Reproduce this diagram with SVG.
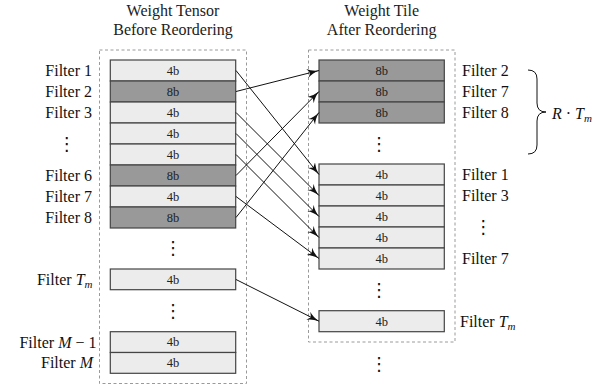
<svg xmlns="http://www.w3.org/2000/svg" width="605" height="388" viewBox="0 0 605 388" font-family="'Liberation Serif', Tinos, 'Noto Serif', 'Nimbus Roman', 'Nimbus Roman No9 L', FreeSerif, Times, 'DejaVu Serif', serif">
  <style>
    .lbl { font-size: 16px; fill: #111; }
    .ttl { font-size: 16px; fill: #222; text-anchor: middle; }
    .end { text-anchor: end; }
    .m { font-style: italic; }
    .cell-txt { font-size: 12.5px; fill: #222; text-anchor: middle; }
    .lt { fill: #ececec; stroke: #444; stroke-width: 1.2; }
    .dk { fill: #999999; stroke: #444; stroke-width: 1.2; }
    .frame { fill: none; stroke: #9a9a9a; stroke-width: 1; stroke-dasharray: 3 2.5; }
    .vd { font-family: 'DejaVu Sans', sans-serif; font-size: 18px; fill: #111; text-anchor: middle; }
    .conn line { stroke: #111; stroke-width: 1; marker-end: url(#head); }
  </style>
  <defs>
    <marker id="head" markerUnits="userSpaceOnUse" markerWidth="14" markerHeight="10" refX="12" refY="4.5" orient="auto">
      <path d="M0,0 Q4.5,3.4 12,4.5 Q4.5,5.6 0,9 L3,4.5 Z" fill="#111"/>
    </marker>
  </defs>

  <!-- column titles -->
  <g id="title-left">
    <text class="ttl" x="173" y="15.5">Weight Tensor</text>
    <text class="ttl" x="173" y="34.5">Before Reordering</text>
  </g>
  <g id="title-right">
    <text class="ttl" x="381.7" y="15.5">Weight Tile</text>
    <text class="ttl" x="381.7" y="34.5">After Reordering</text>
  </g>

  <!-- dashed frames -->
  <rect class="frame" x="99.5" y="50" width="147" height="333.5"/>
  <rect class="frame" x="308.5" y="50" width="146.5" height="292"/>

  <!-- weight tensor (before) -->
  <g id="L1"><rect class="lt" x="110.3" y="60" width="125.4" height="21"/><text class="cell-txt" x="173" y="74.8">4b</text><text class="lbl end" x="92" y="76">Filter 1</text></g>
  <g id="L2"><rect class="dk" x="110.3" y="81" width="125.4" height="21"/><text class="cell-txt" x="173" y="95.8">8b</text><text class="lbl end" x="92" y="97">Filter 2</text></g>
  <g id="L3"><rect class="lt" x="110.3" y="102" width="125.4" height="21"/><text class="cell-txt" x="173" y="116.8">4b</text><text class="lbl end" x="92" y="118">Filter 3</text></g>
  <g id="L4"><rect class="lt" x="110.3" y="123" width="125.4" height="21"/><text class="cell-txt" x="173" y="137.8">4b</text></g>
  <g id="L5"><rect class="lt" x="110.3" y="144" width="125.4" height="21"/><text class="cell-txt" x="173" y="158.8">4b</text></g>
  <g id="L6"><rect class="dk" x="110.3" y="165" width="125.4" height="21"/><text class="cell-txt" x="173" y="179.8">8b</text><text class="lbl end" x="92" y="181">Filter 6</text></g>
  <g id="L7"><rect class="lt" x="110.3" y="186" width="125.4" height="21"/><text class="cell-txt" x="173" y="200.8">4b</text><text class="lbl end" x="92" y="202">Filter 7</text></g>
  <g id="L8"><rect class="dk" x="110.3" y="207" width="125.4" height="21"/><text class="cell-txt" x="173" y="221.8">8b</text><text class="lbl end" x="92" y="223">Filter 8</text></g>
  <g id="LTm"><rect class="lt" x="110.3" y="269" width="125.4" height="20.7"/><text class="cell-txt" x="173" y="283.7">4b</text><text class="lbl end" x="92.5" y="285">Filter <tspan class="m">T</tspan><tspan class="m" font-size="11" dy="3">m</tspan></text></g>
  <g id="LM1"><rect class="lt" x="110.3" y="331.7" width="125.4" height="20.8"/><text class="cell-txt" x="173" y="346.4">4b</text><text class="lbl end" x="96.5" y="347.5">Filter <tspan class="m">M</tspan> − 1</text></g>
  <g id="LM"><rect class="lt" x="110.3" y="352.5" width="125.4" height="20.8"/><text class="cell-txt" x="173" y="367.2">4b</text><text class="lbl end" x="93" y="368.3">Filter <tspan class="m">M</tspan></text></g>
  <text class="vd" x="66.7" y="150">⋮</text>
  <text class="vd" x="173" y="254">⋮</text>
  <text class="vd" x="173" y="317">⋮</text>

  <!-- weight tile (after) -->
  <g id="R2"><rect class="dk" x="319" y="60" width="125.3" height="21"/><text class="cell-txt" x="381.7" y="74.8">8b</text><text class="lbl" x="462" y="76">Filter 2</text></g>
  <g id="R7"><rect class="dk" x="319" y="81" width="125.3" height="21"/><text class="cell-txt" x="381.7" y="95.8">8b</text><text class="lbl" x="462" y="97">Filter 7</text></g>
  <g id="R8"><rect class="dk" x="319" y="102" width="125.3" height="21"/><text class="cell-txt" x="381.7" y="116.8">8b</text><text class="lbl" x="462" y="118">Filter 8</text></g>
  <g id="R1"><rect class="lt" x="319" y="164" width="125.3" height="21"/><text class="cell-txt" x="381.7" y="178.8">4b</text><text class="lbl" x="462" y="180">Filter 1</text></g>
  <g id="R3"><rect class="lt" x="319" y="185" width="125.3" height="21"/><text class="cell-txt" x="381.7" y="199.8">4b</text><text class="lbl" x="462" y="201">Filter 3</text></g>
  <g id="R4"><rect class="lt" x="319" y="206" width="125.3" height="21"/><text class="cell-txt" x="381.7" y="220.8">4b</text></g>
  <g id="R5"><rect class="lt" x="319" y="227" width="125.3" height="21"/><text class="cell-txt" x="381.7" y="241.8">4b</text></g>
  <g id="R7b"><rect class="lt" x="319" y="248" width="125.3" height="21"/><text class="cell-txt" x="381.7" y="262.8">4b</text><text class="lbl" x="462" y="264">Filter 7</text></g>
  <g id="RTm"><rect class="lt" x="319" y="310.7" width="125.3" height="21"/><text class="cell-txt" x="381.7" y="325.5">4b</text><text class="lbl" x="460" y="326.7">Filter <tspan class="m">T</tspan><tspan class="m" font-size="11" dy="3">m</tspan></text></g>
  <text class="vd" x="379" y="150">⋮</text>
  <text class="vd" x="483.3" y="233">⋮</text>
  <text class="vd" x="379" y="296">⋮</text>
  <text class="vd" x="379" y="370">⋮</text>

  <!-- brace over the 8-bit group -->
  <g id="brace">
    <path d="M528,70 Q537,70 537,79 L537,103 Q537,112 546,112 Q537,112 537,121 L537,145 Q537,154 528,154" fill="none" stroke="#111" stroke-width="1"/>
    <text class="lbl" x="552" y="118.5"><tspan class="m">R</tspan> · <tspan class="m">T</tspan><tspan class="m" font-size="11" dy="3">m</tspan></text>
  </g>

  <!-- reordering connectors -->
  <g id="connectors" class="conn">
    <line x1="236" y1="70.5" x2="319" y2="174.5"/>
    <line x1="236" y1="91.5" x2="319" y2="70.5"/>
    <line x1="236" y1="112.5" x2="319" y2="195.5"/>
    <line x1="236" y1="133.5" x2="319" y2="216.5"/>
    <line x1="236" y1="154.5" x2="319" y2="237.5"/>
    <line x1="236" y1="175.5" x2="319" y2="91.5"/>
    <line x1="236" y1="196.5" x2="319" y2="258.5"/>
    <line x1="236" y1="217.5" x2="319" y2="112.5"/>
    <line x1="236" y1="279.5" x2="319" y2="321.2"/>
  </g>
</svg>
